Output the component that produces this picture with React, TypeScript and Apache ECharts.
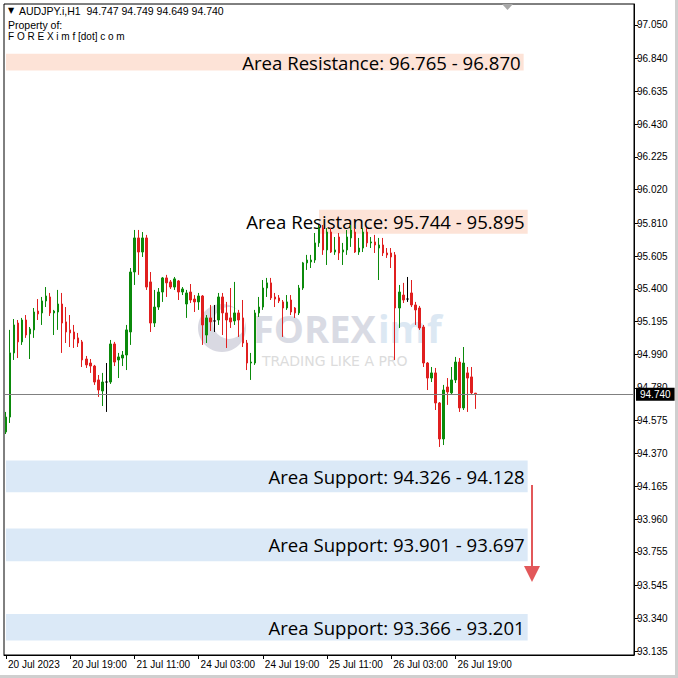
import React, { useEffect, useRef } from 'react';
import * as echarts from 'echarts';

// ---- data (AUDJPY.i, H1) ----
const sessionDays: [string, number, number][] = [
  ['20 Jul', 3, 23], ['21 Jul', 0, 23], ['24 Jul', 0, 23],
  ['25 Jul', 0, 23], ['26 Jul', 0, 23], ['27 Jul', 0, 0],
];
const xTickLabels = ['20 Jul 2023', '20 Jul 19:00', '21 Jul 11:00', '24 Jul 03:00', '24 Jul 19:00', '25 Jul 11:00', '26 Jul 03:00', '26 Jul 19:00'];
const yTickValues = [93.135, 93.340, 93.545, 93.755, 93.960, 94.165, 94.370, 94.575, 94.780, 94.990, 95.195, 95.400, 95.605, 95.810, 96.020, 96.225, 96.430, 96.635, 96.840, 97.050];

const openP = [94.505, 94.598, 94.999, 95.186, 95.068, 95.205, 95.118, 95.143, 95.261, 95.249,
  95.324, 95.349, 95.249, 95.255, 95.305, 95.193, 95.143, 95.130, 95.093, 95.068,
  94.961, 94.936, 94.917, 94.830, 94.761, 94.817, 94.817, 95.055, 94.955, 94.967,
  94.986, 95.130, 95.505, 95.718, 95.630, 95.718, 95.443, 95.186, 95.286, 95.380,
  95.468, 95.443, 95.411, 95.449, 95.380, 95.305, 95.380, 95.336, 95.318, 95.355,
  95.111, 95.218, 95.199, 95.205, 95.349, 95.249, 95.218, 95.199, 95.249, 95.218,
  95.061, 94.936, 94.936, 95.249, 95.286, 95.405, 95.437, 95.349, 95.343, 95.318,
  95.280, 95.330, 95.280, 95.249, 95.405, 95.562, 95.568, 95.580, 95.687, 95.780,
  95.643, 95.755, 95.630, 95.724, 95.630, 95.643, 95.718, 95.755, 95.630, 95.655,
  95.755, 95.687, 95.693, 95.655, 95.674, 95.624, 95.624, 95.612, 95.280, 95.361,
  95.336, 95.374, 95.299, 95.280, 95.161, 94.936, 94.842, 94.874, 94.686, 94.461,
  94.786, 94.749, 94.830, 94.942, 94.655, 94.874, 94.849, 94.747];
const closeP = [94.598, 94.999, 95.174, 95.068, 95.205, 95.111, 95.149, 95.255, 95.243, 95.324,
  95.355, 95.249, 95.261, 95.305, 95.186, 95.130, 95.124, 95.086, 95.061, 94.955,
  94.924, 94.917, 94.817, 94.767, 94.817, 94.817, 95.055, 94.942, 94.974, 94.986,
  95.143, 95.505, 95.718, 95.630, 95.718, 95.411, 95.186, 95.286, 95.380, 95.468,
  95.437, 95.411, 95.462, 95.380, 95.399, 95.374, 95.330, 95.318, 95.355, 95.174,
  95.218, 95.193, 95.199, 95.349, 95.249, 95.205, 95.193, 95.249, 95.205, 95.061,
  94.936, 94.942, 95.249, 95.286, 95.405, 95.437, 95.343, 95.336, 95.324, 95.280,
  95.318, 95.255, 95.249, 95.405, 95.562, 95.580, 95.580, 95.687, 95.780, 95.643,
  95.755, 95.630, 95.643, 95.624, 95.643, 95.724, 95.768, 95.630, 95.655, 95.755,
  95.687, 95.693, 95.674, 95.674, 95.624, 95.612, 95.599, 95.280, 95.380, 95.330,
  95.336, 95.299, 95.268, 95.155, 94.936, 94.842, 94.874, 94.686, 94.461, 94.767,
  94.755, 94.830, 94.942, 94.655, 94.936, 94.842, 94.749, 94.740];
const lowP = [94.492, 94.561, 94.955, 94.967, 95.049, 95.093, 94.961, 95.093, 95.205, 95.174,
  95.286, 95.230, 95.111, 95.143, 94.999, 95.061, 95.036, 95.030, 95.036, 94.911,
  94.905, 94.874, 94.799, 94.724, 94.667, 94.630, 94.805, 94.917, 94.842, 94.917,
  94.892, 95.049, 95.424, 95.487, 95.599, 95.393, 95.130, 95.161, 95.268, 95.318,
  95.349, 95.399, 95.393, 95.330, 95.361, 95.218, 95.311, 95.255, 95.268, 95.049,
  95.061, 95.136, 95.130, 95.174, 95.111, 95.030, 95.155, 95.174, 95.099, 95.036,
  94.892, 94.830, 94.924, 95.224, 95.268, 95.349, 95.330, 95.286, 95.311, 95.099,
  95.268, 95.236, 95.218, 95.236, 95.393, 95.518, 95.530, 95.562, 95.662, 95.612,
  95.549, 95.624, 95.612, 95.580, 95.549, 95.612, 95.662, 95.624, 95.612, 95.630,
  95.662, 95.655, 95.624, 95.455, 95.605, 95.593, 95.530, 94.955, 95.155, 95.311,
  95.318, 95.286, 95.174, 95.143, 94.911, 94.767, 94.817, 94.642, 94.411, 94.423,
  94.674, 94.736, 94.811, 94.630, 94.642, 94.630, 94.736, 94.649];
const highP = [94.630, 95.143, 95.211, 95.205, 95.218, 95.236, 95.161, 95.280, 95.336, 95.349,
  95.411, 95.374, 95.268, 95.393, 95.374, 95.286, 95.236, 95.174, 95.124, 95.080,
  94.980, 94.961, 94.924, 94.861, 94.874, 94.936, 95.080, 95.068, 94.999, 95.011,
  95.174, 95.530, 95.768, 95.768, 95.755, 95.737, 95.505, 95.393, 95.405, 95.474,
  95.487, 95.455, 95.474, 95.455, 95.411, 95.393, 95.430, 95.361, 95.374, 95.361,
  95.236, 95.299, 95.299, 95.374, 95.374, 95.318, 95.405, 95.443, 95.268, 95.330,
  95.080, 94.999, 95.268, 95.349, 95.455, 95.468, 95.468, 95.374, 95.361, 95.330,
  95.361, 95.361, 95.286, 95.424, 95.568, 95.612, 95.612, 95.749, 95.799, 95.799,
  95.780, 95.780, 95.724, 95.749, 95.687, 95.768, 95.799, 95.780, 95.718, 95.780,
  95.780, 95.724, 95.737, 95.718, 95.718, 95.655, 95.655, 95.630, 95.424, 95.437,
  95.474, 95.455, 95.318, 95.293, 95.174, 94.942, 94.911, 94.905, 94.692, 94.799,
  94.842, 94.911, 94.974, 94.967, 95.036, 94.911, 94.911, 94.749];

const lastPrice = 94.740;
const headerValues = ['94.747', '94.749', '94.649', '94.740'];

const zoneLabels = [
  'Area Resistance: 96.765 - 96.870',
  'Area Resistance: 95.744 - 95.895',
  'Area Support: 94.326 - 94.128',
  'Area Support: 93.901 - 93.697',
  'Area Support: 93.366 - 93.201',
];
const zoneLow = [96.765, 95.744, 94.128, 93.697, 93.201];
const zoneHigh = [96.870, 95.895, 94.326, 93.901, 93.366];
const zoneFrom = [0, 78, 0, 0, 0];
const zoneTo = [129, 130, 130, 130, 130];
const zoneKind = ['res', 'res', 'sup', 'sup', 'sup'];

const TOTAL_SLOTS = 157;

function buildCategories(): string[] {
  const out: string[] = [];
  sessionDays.forEach(([day, from, to]) => {
    for (let h = from; h <= to; h++) {
      out.push(`${day} ${h < 10 ? '0' + h : h}:00`);
    }
  });
  out[0] = '20 Jul 2023';
  for (let i = out.length; i < TOTAL_SLOTS; i++) out.push(`pad${i}`);
  return out;
}

export default function App() {
  const ref = useRef<HTMLDivElement>(null);
  useEffect(() => {
    const chart = echarts.init(ref.current!, null, { renderer: 'svg' });
    const categories = buildCategories();
    const candles = openP.map((o, i) => [o, closeP[i], lowP[i], highP[i]]);
    const showTick = (_i: number, v: string) => xTickLabels.includes(v);
    const font = 'Liberation Sans, Arial, sans-serif';

    const markAreaData = zoneLabels.map((lab, i) => [
      {
        xAxis: zoneFrom[i],
        yAxis: zoneHigh[i],
        itemStyle: { color: zoneKind[i] === 'res' ? '#fde3d7' : '#dbe9f7' },
        label: {
          show: true,
          position: 'insideRight',
          distance: 3,
          formatter: lab,
          color: '#000',
          fontSize: 18.6,
          fontFamily: 'Open Sans, sans-serif',
        },
      },
      { xAxis: zoneTo[i], yAxis: zoneLow[i] },
    ]);

    const option: any = {
      animation: false,
      grid: {
        left: 4, top: 4, right: 44, bottom: 23,
        show: true, borderColor: '#000', borderWidth: 1, backgroundColor: 'transparent',
      },
      xAxis: {
        type: 'category',
        data: categories,
        boundaryGap: true,
        axisLine: { show: true, lineStyle: { color: '#000', width: 1 } },
        axisTick: { show: true, alignWithLabel: true, interval: showTick, length: 4, lineStyle: { color: '#000' } },
        axisLabel: {
          show: true, interval: showTick, align: 'left', margin: 4,
          color: '#000', fontSize: 10, fontFamily: font, padding: [0, 0, 0, 2],
        },
        splitLine: { show: false },
      },
      yAxis: {
        type: 'value',
        position: 'right',
        min: 93.110,
        max: 97.181,
        scale: true,
        axisLine: { show: true, lineStyle: { color: '#000', width: 1 } },
        axisTick: { show: true, customValues: yTickValues, length: 4, lineStyle: { color: '#000' } },
        axisLabel: {
          show: true, customValues: yTickValues, margin: 3,
          formatter: (v: number) => v.toFixed(3),
          color: '#000', fontSize: 10, fontFamily: font,
        },
        splitLine: { show: false },
      },
      series: [
        {
          type: 'candlestick',
          data: candles,
          barWidth: 2,
          itemStyle: {
            color: '#0b8a0b', color0: '#e01f1f',
            borderColor: '#0b8a0b', borderColor0: '#e01f1f',
            borderColorDoji: '#000',
            borderWidth: 1,
          },
          markArea: { silent: true, z: 1, data: markAreaData },
          markLine: {
            silent: true,
            symbol: 'none',
            lineStyle: { color: '#808080', width: 1, type: 'solid' },
            data: [{ yAxis: lastPrice }],
            label: {
              show: true, position: 'end', distance: 2,
              formatter: lastPrice.toFixed(3),
              backgroundColor: '#000', color: '#fff', fontSize: 10, fontFamily: font,
              padding: [2, 4, 1, 4],
            },
          },
        },
      ],
      graphic: [
        // outer frame lines
        { type: 'rect', shape: { x: 675, y: 0, width: 3, height: 678 }, style: { fill: '#cfcfcf' }, silent: true },
        { type: 'rect', shape: { x: 0, y: 675, width: 678, height: 3 }, style: { fill: '#cfcfcf' }, silent: true },
        // chart shift marker
        { type: 'polygon', shape: { points: [[502, 4], [513, 4], [507.5, 10]] }, style: { fill: '#a8a8a8' }, silent: true },
        // header
        { type: 'text', x: 8, y: 6, style: { text: '▼', fontSize: 8, fill: '#000', fontFamily: 'DejaVu Sans' }, silent: true },
        { type: 'text', x: 19, y: 5, style: { text: 'AUDJPY.i,H1  ' + headerValues.join(' '), fontSize: 10.5, fill: '#000', fontFamily: font }, silent: true },
        { type: 'text', x: 8, y: 19, style: { text: 'Property of:', fontSize: 10.5, fill: '#000', fontFamily: font }, silent: true },
        { type: 'text', x: 8, y: 31, style: { text: 'F O R E X i m f [dot] c o m', fontSize: 10, fill: '#000', fontFamily: font }, silent: true },
        // watermark
        { type: 'circle', z: -5, shape: { cx: 222, cy: 328, r: 24 }, style: { fill: '#d9d9e2' }, silent: true },
        { type: 'circle', z: -4, shape: { cx: 229, cy: 323, r: 16 }, style: { fill: '#ffffff' }, silent: true },
        { type: 'text', z: -5, x: 253, y: 328, style: { text: 'FOREX', fontSize: 38, lineHeight: 32, verticalAlign: 'middle', fontWeight: 'bold', fill: '#d9dbe4', fontFamily: 'Open Sans, sans-serif' }, silent: true },
        { type: 'text', z: -5, x: 378, y: 328, style: { text: 'imf', fontSize: 38, lineHeight: 32, verticalAlign: 'middle', fontWeight: 'bold', fill: '#dce8f3', fontFamily: 'Open Sans, sans-serif' }, silent: true },
        { type: 'text', z: -5, x: 262, y: 361, style: { text: 'TRADING LIKE A PRO', fontSize: 14, lineHeight: 13, verticalAlign: 'middle', fill: '#dcdcdc', fontFamily: 'DejaVu Sans, sans-serif' }, silent: true },
        // arrow
        { type: 'line', shape: { x1: 532, y1: 485, x2: 532, y2: 570 }, style: { stroke: '#e2585a', lineWidth: 2 }, silent: true },
        { type: 'polygon', shape: { points: [[524, 566], [540, 566], [532, 582]] }, style: { fill: '#e2585a' }, silent: true },
      ],
    };
    chart.setOption(option);
    return () => chart.dispose();
  }, []);
  return (
    <div
      ref={ref}
      style={{ position: 'fixed', left: 0, top: 0, width: 678, height: 678, background: '#fff' }}
    />
  );
}
